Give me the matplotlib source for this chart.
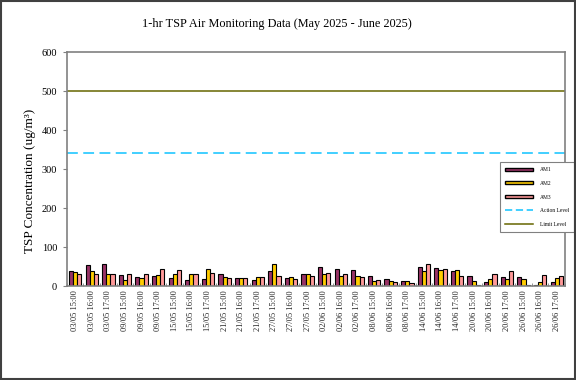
import numpy as np
import matplotlib
matplotlib.use("Agg")
import matplotlib.pyplot as plt
from matplotlib.patches import Patch, Rectangle
from matplotlib.lines import Line2D

plt.rcParams['font.family'] = ['Liberation Serif', 'DejaVu Serif']

# sampling dates / times
dates = ["03/05", "09/05", "15/05", "21/05", "27/05",
         "02/06", "08/06", "14/06", "20/06", "26/06"]
times = ["15:00", "16:00", "17:00"]
labels = [f"{d} {t}" for d in dates for t in times]

# 1-hr TSP readings (ug/m3)
am1 = [39, 55, 56, 28, 23, 27, 20, 15, 19, 31, 22, 17, 38, 20, 32,
       50, 43, 41, 25, 18, 13, 48, 46, 38, 27, 10, 24, 24, 3, 11]
am2 = [37, 38, 32, 17, 21, 28, 30, 32, 43, 24, 21, 24, 56, 24, 32,
       30, 27, 26, 12, 12, 13, 38, 41, 42, 13, 19, 19, 18, 10, 21]
am3 = [32, 32, 32, 31, 30, 44, 41, 32, 34, 21, 21, 24, 26, 19, 26,
       34, 30, 24, 16, 10, 9, 56, 43, 26, 2, 30, 38, 3, 28, 26]

action_level = 340
limit_level = 500

fig = plt.figure(figsize=(5.76, 3.8), dpi=100)
ax = fig.add_axes([0.116, 0.247, 0.865, 0.616])

x = np.arange(len(labels))
w = 0.25
ax.bar(x - w, am1, w, color="#993366", edgecolor="black", linewidth=0.8, label="AM1")
ax.bar(x, am2, w, color="#FFCC00", edgecolor="black", linewidth=0.8, label="AM2")
ax.bar(x + w, am3, w, color="#FF9999", edgecolor="black", linewidth=0.8, label="AM3")

ax.axhline(action_level, color="#33CCFF", linestyle=(0, (6, 3)), linewidth=1.3)
ax.axhline(limit_level, color="#666600", linewidth=1.1)

ax.set_xlim(-0.5, len(labels) - 0.5)
ax.set_ylim(0, 600)
ax.set_yticks(range(0, 601, 100))
ax.tick_params(axis="y", labelsize=7.5, length=3, color="#808080", pad=4)

ax.set_xticks(x, labels, rotation=90, fontsize=6)
ax.tick_params(axis="x", length=0, pad=3, labelcolor="#222222")
ax.set_xticks(np.arange(-0.5, len(labels), 1), minor=True)
ax.tick_params(axis="x", which="minor", length=2, direction="in", color="#808080")

for s in ax.spines.values():
    s.set_color("#808080")
    s.set_linewidth(1.2)

fig.text(0.48, 1 - 24 / 380, "1-hr TSP Air Monitoring Data (May 2025 - June 2025)",
         fontsize=8.8, ha="center", va="center")
ax.set_ylabel("TSP Concentration (ug/m³)", fontsize=9.5)
ax.yaxis.set_label_coords(-0.062, 0.45)

handles = [
    Patch(facecolor="#993366", edgecolor="black"),
    Patch(facecolor="#FFCC00", edgecolor="black"),
    Patch(facecolor="#FF9999", edgecolor="black"),
    Line2D([], [], color="#33CCFF", linestyle=(0, (4, 2)), linewidth=1.3),
    Line2D([], [], color="#666600", linewidth=1.1),
]
leg = ax.legend(handles, ["AM1", "AM2", "AM3", "Action Level", "Limit Level"],
                loc="upper left", bbox_to_anchor=(497 / 576, 1 - 159 / 380),
                bbox_transform=fig.transFigure, fontsize=4,
                handlelength=5, handleheight=0.45, labelspacing=1.55,
                handletextpad=1.2, fancybox=False, framealpha=1, borderpad=1.0)
leg.get_frame().set_edgecolor("#808080")
leg.get_frame().set_linewidth(0.8)

fig.patches.append(Rectangle((0.002, 0.003), 0.996, 0.994, transform=fig.transFigure,
                             fill=False, edgecolor="#404040", linewidth=1.5))

fig.savefig("out.png", dpi=100)
